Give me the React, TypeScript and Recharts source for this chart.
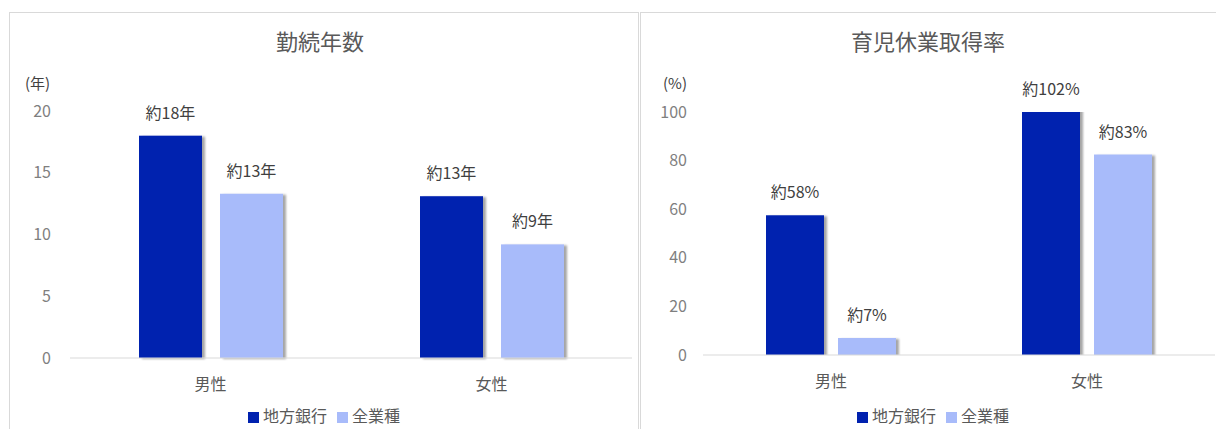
import { BarChart, Bar, XAxis, YAxis, Legend, LabelList } from 'recharts';

const FONT = '"Noto Sans CJK JP", "Noto Sans", sans-serif';

const categories = ['男性', '女性'];

// 勤続年数 (年)
const tenureBank = [18, 13.1];
const tenureAll = [13.3, 9.2];
const tenureBankLabels = ['約18年', '約13年'];
const tenureAllLabels = ['約13年', '約9年'];
const tenureTicks = [0, 5, 10, 15, 20];

// 育児休業取得率 (%)
const leaveBank = [57.5, 102];
const leaveAll = [7, 82.5];
const leaveBankLabels = ['約58%', '約102%'];
const leaveAllLabels = ['約7%', '約83%'];
const leaveTicks = [0, 20, 40, 60, 80, 100];

const seriesNames = ['地方銀行', '全業種'];
const DARK = '#0021AF';
const LIGHT = '#A8BBFA';

const tenureData = categories.map((name, i) => ({
  name,
  bank: tenureBank[i],
  all: tenureAll[i],
  bankLabel: tenureBankLabels[i],
  allLabel: tenureAllLabels[i],
}));

const leaveData = categories.map((name, i) => ({
  name,
  bank: leaveBank[i],
  all: leaveAll[i],
  bankLabel: leaveBankLabels[i],
  allLabel: leaveAllLabels[i],
}));

function shadowBar(filterId: string) {
  return (props: any) => {
    const { x, y, width, height, fill } = props;
    return <rect x={x} y={y} width={width} height={height} fill={fill} filter={`url(#${filterId})`} />;
  };
}

function barLabel(plotTop: number) {
  return (props: any) => {
    const vb = props.viewBox || props;
    const top = Math.max(vb.y, plotTop);
    return (
      <text x={vb.x + vb.width / 2} y={top - 17} textAnchor="middle" fill="#404040" fontSize={16} fontFamily={FONT}>
        {props.value}
      </text>
    );
  };
}

const legendText = (v: string) => <span style={{ color: '#595959', fontSize: 16 }}>{v}</span>;
const legendOrder = (item: any) => seriesNames.indexOf(item.value);

function Panel(props: {
  left: number;
  width: number;
  title: string;
  unit: string;
  unitLeft: number;
  data: any[];
  ticks: number[];
  yWidth: number;
  tickMargin: number;
  barSize: number;
  barGap: number;
  plotTop: number;
  marginBottom: number;
  marginRight: number;
  legendLeft: number;
  clip: boolean;
  id: string;
}) {
  const { left, width, title, unit, data, ticks, yWidth, tickMargin, barSize, barGap, plotTop, id } = props;
  return (
    <div style={{ position: 'absolute', left, top: 0, width, height: 429 }}>
      <div
        style={{
          position: 'absolute',
          left: 0,
          top: 26,
          width,
          textAlign: 'center',
          fontSize: 22,
          color: '#595959',
          lineHeight: '28px',
        }}
      >
        {title}
      </div>
      <div style={{ position: 'absolute', left: props.unitLeft, top: 73, fontSize: 15, color: '#404040', lineHeight: '20px' }}>
        {unit}
      </div>
      <BarChart
        width={width}
        height={429}
        data={data}
        barSize={barSize}
        barGap={barGap}
        margin={{ top: plotTop, right: props.marginRight, left: 0, bottom: props.marginBottom }}
        style={{ position: 'absolute', left: 0, top: 0 }}
      >
        <defs>
          <filter id={id} x="-10%" y="-10%" width="130%" height="120%">
            <feDropShadow dx="3" dy="1" stdDeviation="1.2" floodColor="#000" floodOpacity="0.35" />
          </filter>
        </defs>
        <XAxis
          dataKey="name"
          height={30}
          axisLine={{ stroke: '#D9D9D9' }}
          tickLine={false}
          tickSize={0}
          tickMargin={21}
          tick={{ fill: '#595959', fontSize: 16, fontFamily: FONT }}
        />
        <YAxis
          width={yWidth}
          domain={[0, ticks[ticks.length - 1]]}
          ticks={ticks}
          allowDataOverflow={props.clip}
          axisLine={false}
          tickLine={false}
          tickSize={0}
          tickMargin={tickMargin}
          tick={{ fill: '#7F7F7F', fontSize: 16, fontFamily: FONT }}
        />
        <Legend
          iconType="square"
          iconSize={11}
          formatter={legendText}
          itemSorter={legendOrder}
          wrapperStyle={{ position: 'absolute', top: 405, left: props.legendLeft, width, height: 20, lineHeight: '20px' }}
        />
        <Bar dataKey="bank" name={seriesNames[0]} fill={DARK} shape={shadowBar(id)} isAnimationActive={false}>
          <LabelList dataKey="bankLabel" content={barLabel(plotTop)} />
        </Bar>
        <Bar dataKey="all" name={seriesNames[1]} fill={LIGHT} shape={shadowBar(id)} isAnimationActive={false}>
          <LabelList dataKey="allLabel" content={barLabel(plotTop)} />
        </Bar>
      </BarChart>
    </div>
  );
}

export default function App() {
  return (
    <div
      style={{
        position: 'absolute',
        left: 0,
        top: 0,
        width: 1216,
        height: 429,
        background: '#fff',
        fontFamily: FONT,
        overflow: 'hidden',
      }}
    >
      <div style={{ position: 'absolute', left: 9, top: 12, width: 628, height: 440, border: '1px solid #D9D9D9' }} />
      <div style={{ position: 'absolute', left: 640, top: 12, width: 600, height: 440, border: '1px solid #D9D9D9' }} />
      <Panel
        id="shL"
        left={0}
        width={640}
        title="勤続年数"
        unit="(年)"
        unitLeft={25}
        data={tenureData}
        ticks={tenureTicks}
        yWidth={70}
        tickMargin={19}
        barSize={63}
        barGap={18}
        plotTop={111}
        marginBottom={21}
        marginRight={8}
        legendLeft={9}
        clip={false}
      />
      <Panel
        id="shR"
        left={640}
        width={576}
        title="育児休業取得率"
        unit="(%)"
        unitLeft={23}
        data={leaveData}
        ticks={leaveTicks}
        yWidth={63}
        tickMargin={16}
        barSize={58}
        barGap={14}
        plotTop={112}
        marginBottom={24}
        marginRight={1}
        legendLeft={10}
        clip={true}
      />
    </div>
  );
}
